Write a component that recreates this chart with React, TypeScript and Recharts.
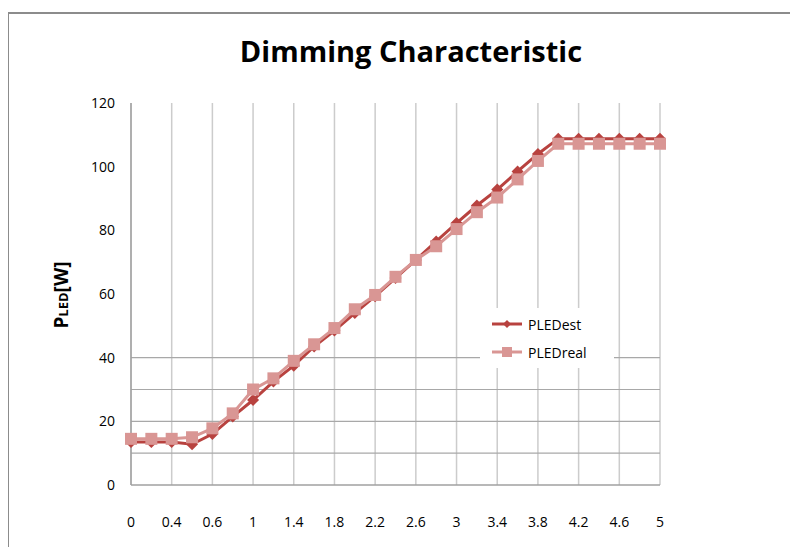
import React from "react";
import {
  CartesianGrid,
  Line,
  LineChart,
  XAxis,
  YAxis,
} from "recharts";

// x positions of the samples (labels drawn on every other one)
const xLabels = [
  "0", "0.2", "0.4", "0.5", "0.6", "0.8", "1", "1.2", "1.4", "1.6", "1.8", "2", "2.2", "2.4",
  "2.6", "2.8", "3", "3.2", "3.4", "3.6", "3.8", "4", "4.2", "4.4", "4.6", "4.8", "5",
];

const pledEst = [
  13.5, 13.5, 13.5, 12.8, 16, 21.5, 26.7, 32.5, 37.5, 43.5, 48.5, 54, 59.3, 65,
  70.7, 76.5, 82.3, 87.8, 92.8, 98.5, 104, 108.8, 108.8, 108.8, 108.8, 108.8, 108.8,
];

const pledReal = [
  14.5, 14.5, 14.5, 15, 17.8, 22.5, 30, 33.5, 39, 44.2, 49.3, 55.2, 59.7, 65.4,
  70.7, 75, 80.4, 85.7, 90.3, 96, 101.8, 107.2, 107.2, 107.2, 107.2, 107.2, 107.2,
];

const yTicks = [0, 20, 40, 60, 80, 100, 120];
const hGridValues = [10, 20, 30, 40];

const EST = "#B8423F";
const REAL = "#D99694";
const FONT = "'Open Sans', 'Noto Sans', sans-serif";

const data = xLabels.map((x, i) => ({ x, est: pledEst[i], real: pledReal[i] }));

const Diamond = ({ cx, cy, fill, size = 5 }: any) =>
  cx == null ? null : (
    <polygon
      points={`${cx},${cy - size} ${cx + size},${cy} ${cx},${cy + size} ${cx - size},${cy}`}
      fill={fill}
    />
  );

const Square = ({ cx, cy, fill, size = 6 }: any) =>
  cx == null ? null : (
    <rect x={cx - size} y={cy - size} width={size * 2} height={size * 2} fill={fill} />
  );

function LegendBox() {
  const row = (label: string, color: string, marker: React.ReactNode) => (
    <div style={{ display: "flex", alignItems: "center", height: 28 }}>
      <svg width={34} height={14}>
        <line x1={2} y1={7} x2={32} y2={7} stroke={color} strokeWidth={3} />
        {marker}
      </svg>
      <span style={{ fontFamily: FONT, fontSize: 14, color: "#000", marginLeft: 4 }}>{label}</span>
    </div>
  );
  return (
    <div
      style={{
        position: "absolute",
        left: 472,
        top: 300,
        width: 134,
        height: 60,
        background: "#fff",
        padding: "2px 0 0 10px",
        boxSizing: "border-box",
      }}
    >
      {row("PLEDest", EST, <Diamond cx={17} cy={7} fill={EST} size={4} />)}
      {row("PLEDreal", REAL, <Square cx={17} cy={7} fill={REAL} size={5} />)}
    </div>
  );
}

export default function App() {
  return (
    <div style={{ position: "relative", width: 790, height: 539 }}>
      <div
        style={{
          position: "absolute",
          left: -1,
          top: 4,
          width: 800,
          height: 540,
          borderLeft: "2px solid #8c8c8c",
          borderTop: "2px solid #8c8c8c",
        }}
      />
      <div
        style={{
          position: "absolute",
          left: 0,
          width: 806,
          top: 23,
          textAlign: "center",
          fontFamily: FONT,
          fontWeight: 700,
          fontSize: 29,
          color: "#000",
        }}
      >
        Dimming Characteristic
      </div>
      <div style={{ position: "absolute", left: 0, top: 0 }}>
        <LineChart
          width={790}
          height={539}
          data={data}
          margin={{ top: 95, right: 138, bottom: 12, left: 63 }}
        >
          <CartesianGrid stroke="#cccccc" strokeWidth={1.5} horizontal={false} />
          <CartesianGrid
            stroke="#a8a8a8"
            strokeWidth={1.2}
            vertical={false}
            horizontalValues={hGridValues}
          />
          <XAxis
            dataKey="x"
            interval={1}
            height={50}
            tickLine={false}
            tickSize={2}
            tickMargin={30}
            axisLine={{ stroke: "#a0a0a0", strokeWidth: 1.5 }}
            tick={{ fill: "#000", fontSize: 14, fontFamily: FONT }}
          />
          <YAxis
            domain={[0, 120]}
            ticks={yTicks}
            width={60}
            tickLine={false}
            tickSize={8}
            tickMargin={8}
            axisLine={{ stroke: "#a0a0a0", strokeWidth: 1.5 }}
            tick={{ fill: "#000", fontSize: 14, fontFamily: FONT }}
            label={{
              content: () => (
                <text
                  transform="translate(60, 287) rotate(-90)"
                  textAnchor="middle"
                  fontFamily={FONT}
                  fontWeight={700}
                  fill="#000"
                >
                  <tspan fontSize={19}>P</tspan>
                  <tspan fontSize={13}>LED</tspan>
                  <tspan fontSize={19}>[W]</tspan>
                </text>
              ),
            }}
          />
          <Line
            dataKey="est"
            stroke={EST}
            strokeWidth={3}
            isAnimationActive={false}
            dot={(p: any) => <Diamond key={`e${p.index}`} cx={p.cx} cy={p.cy} fill={EST} size={6} />}
            activeDot={false}
          />
          <Line
            dataKey="real"
            stroke={REAL}
            strokeWidth={3}
            isAnimationActive={false}
            dot={(p: any) => <Square key={`r${p.index}`} cx={p.cx} cy={p.cy} fill={REAL} size={6} />}
            activeDot={false}
          />
        </LineChart>
      </div>
      <LegendBox />
    </div>
  );
}
